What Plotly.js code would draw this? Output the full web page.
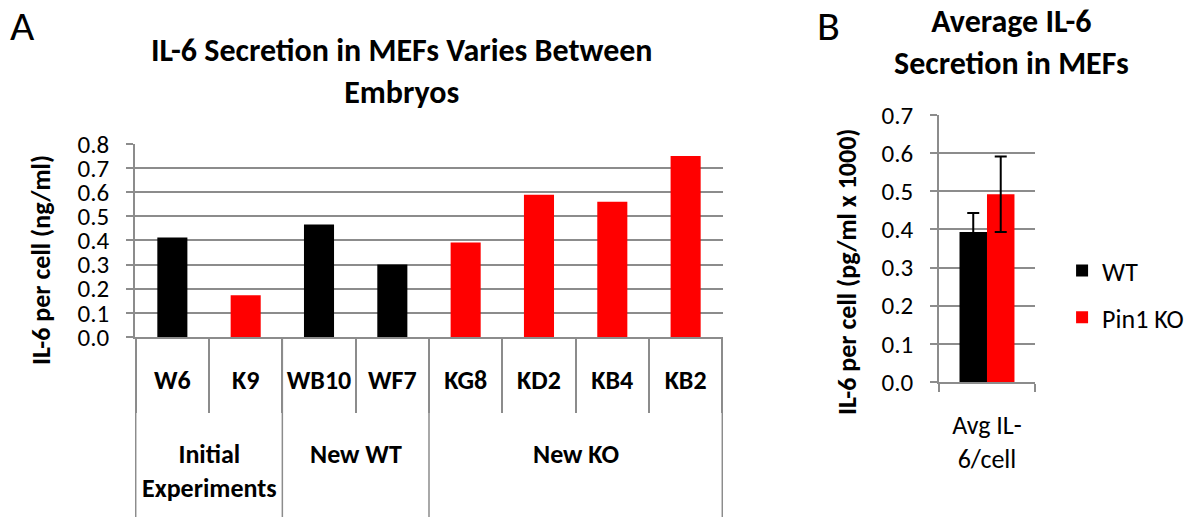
<!DOCTYPE html>
<html><head><meta charset="utf-8">
<script src="https://cdn.plot.ly/plotly-3.0.1.min.js"></script>
<style>html,body{margin:0;padding:0;background:#fff}#chart{width:1190px;height:517px}</style>
</head><body><div id="chart"></div>
<script>
// Panel A data
const groups = ["Initial<br>Experiments","Initial<br>Experiments","New WT","New WT","New KO","New KO","New KO","New KO"];
const samples = ["W6","K9","WB10","WF7","KG8","KD2","KB4","KB2"];
const genotype = ["WT","KO","WT","WT","KO","KO","KO","KO"];
const il6PerCell = [0.412,0.173,0.466,0.300,0.392,0.590,0.561,0.750];
// Panel B data
const avgCategory = ["Avg IL-<br>6/cell"];
const avgSeries = ["WT","Pin1 KO"];
const avgValues = [0.393,0.492];
const avgErrors = [0.050,0.099];
const seriesColors = {WT:"#000000", KO:"#ff0000", "Pin1 KO":"#ff0000"};

const FONT = "Carlito, Lato, 'Open Sans', sans-serif";
const GRID = "#8c8c8c";

const traces = [{
  type:"bar", x:samples, y:il6PerCell,
  marker:{color:genotype.map(g=>seriesColors[g])},
  width:0.41, xaxis:"x", yaxis:"y", showlegend:false, hoverinfo:"x+y"
}];
avgSeries.forEach((s,i)=>{
  traces.push({
    type:"bar", name:s, x:avgCategory, y:[avgValues[i]],
    marker:{color:seriesColors[s]},
    error_y:{type:"data", array:[avgErrors[i]], visible:true, color:"#000", thickness:2, width:6},
    xaxis:"x2", yaxis:"y2", legendgroup:s
  });
});

// group boundaries and centers derived from the groups array
const groupInfo = [];
groups.forEach((g,i)=>{
  const last = groupInfo[groupInfo.length-1];
  if (last && last.name===g) last.end = i; else groupInfo.push({name:g, start:i, end:i});
});
const yDomA = [0.3482,0.7215];
const shapes = [];
groupInfo.forEach(gi=>{
  shapes.push({type:"line", xref:"x", yref:"paper", x0:gi.start-0.5, x1:gi.start-0.5, y0:0, y1:yDomA[0], line:{color:GRID, width:1.5}});
});
shapes.push({type:"line", xref:"x", yref:"paper", x0:samples.length-0.5, x1:samples.length-0.5, y0:0, y1:yDomA[0], line:{color:GRID, width:1.5}});
const groupAnnots = groupInfo.map(gi=>({
  text:gi.name, xref:"x", yref:"paper", x:(gi.start+gi.end)/2, y:0.156, xanchor:"center", yanchor:"top",
  showarrow:false, font:{size:26, weight:"bold"}
}));

const yCommon = {
  dtick:0.1, tickformat:".1f", showgrid:true, gridcolor:GRID, gridwidth:1.5,
  showline:true, linecolor:GRID, linewidth:1.5, ticks:"outside", ticklen:7, tickcolor:GRID, tickwidth:1.5,
  zeroline:false, tickfont:{size:25, color:"#000"}, ticklabelstandoff:12, fixedrange:true
};

const layout = {
  width:1190, height:517, margin:{l:0,r:0,t:0,b:0},
  paper_bgcolor:"#fff", plot_bgcolor:"#fff",
  font:{family:FONT, color:"#000"},
  bargap:0.427, barmode:"group",
  xaxis:{type:"category", domain:[0.1134,0.6076], anchor:"y",
    showline:true, linecolor:GRID, linewidth:1.5, ticks:"outside", ticklen:74, tickcolor:GRID, tickwidth:1.5,
    tickson:"boundaries", tickangle:0, ticklabelstandoff:19,
    tickfont:{size:26, weight:"bold", color:"#000"}, fixedrange:true},
  yaxis:Object.assign({}, yCommon, {domain:yDomA, anchor:"x", range:[0,0.8]}),
  xaxis2:{type:"category", domain:[0.7891,0.8697], anchor:"y2", showline:true, linecolor:GRID, linewidth:1.5,
    ticks:"outside", ticklen:8, tickcolor:GRID, tickwidth:1.5, tickson:"boundaries", tickangle:0, ticklabelstandoff:19,
    tickfont:{size:26, color:"#000"}, fixedrange:true},
  yaxis2:Object.assign({}, yCommon, {domain:[0.2611,0.7776], anchor:"x2", range:[0,0.7]}),
  legend:{x:0.8925, xanchor:"left", y:0.431, yanchor:"middle", font:{size:26}, tracegroupgap:10, bgcolor:"rgba(0,0,0,0)"},
  shapes:shapes,
  annotations:[
    {text:"A", xref:"paper", yref:"paper", x:0.007, y:0.9516, xanchor:"left", yanchor:"middle", showarrow:false, font:{size:42}},
    {text:"B", xref:"paper", yref:"paper", x:0.685, y:0.9516, xanchor:"left", yanchor:"middle", showarrow:false, font:{size:42}},
    {text:"IL-6 Secretion in MEFs Varies Between<br>Embryos", xref:"paper", yref:"paper", x:0.3378, y:0.862, xanchor:"center", yanchor:"middle", showarrow:false, font:{size:32, weight:"bold"}},
    {text:"Average IL-6<br>Secretion in MEFs", xref:"paper", yref:"paper", x:0.8504, y:0.918, xanchor:"center", yanchor:"middle", showarrow:false, font:{size:32, weight:"bold"}},
    {text:"IL-6 per cell (ng/ml)", xref:"paper", yref:"paper", x:41/1190, y:1-260/517, xanchor:"center", yanchor:"middle", textangle:-90, showarrow:false, font:{size:26, weight:"bold"}},
    {text:"IL-6 per cell (pg/ml x 1000)", xref:"paper", yref:"paper", x:847/1190, y:1-272/517, xanchor:"center", yanchor:"middle", textangle:-90, showarrow:false, font:{size:26, weight:"bold"}}
  ].concat(groupAnnots)
};

Plotly.newPlot("chart", traces, layout, {displayModeBar:false, responsive:false});
</script>
</body></html>
